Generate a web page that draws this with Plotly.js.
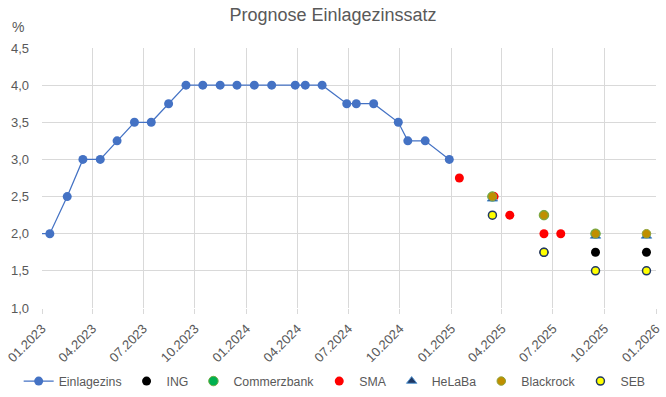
<!DOCTYPE html>
<html>
<head>
<meta charset="utf-8">
<script src="https://cdn.plot.ly/plotly-3.0.1.min.js"></script>
<style>html,body{margin:0;padding:0;background:#fff}#chart{width:666px;height:397px}</style>
</head>
<body>
<div id="chart"></div>
<script>
// Einlagezins (ECB deposit rate), %
const rateDates = ['2022-12-15','2023-01-15','2023-02-15','2023-03-15','2023-04-15','2023-05-15','2023-06-15','2023-07-15','2023-08-15','2023-09-15','2023-10-15','2023-11-15','2023-12-15',
  '2024-01-15','2024-02-15','2024-03-28','2024-04-15','2024-05-15','2024-06-28','2024-07-15','2024-08-15','2024-09-28','2024-10-15','2024-11-15','2024-12-28'];
const rateValues = [2.0,2.0,2.5,3.0,3.0,3.25,3.5,3.5,3.75,4.0,4.0,4.0,4.0,
  4.0,4.0,4.0,4.0,4.0,3.75,3.75,3.75,3.5,3.25,3.25,3.0];

// Forecasts
const ingDates = ['2025-06-15','2025-09-15','2025-12-15'];
const ingValues = [1.75,1.75,1.75];
const cbDates = ['2025-03-15','2025-06-15','2025-09-15'];
const cbValues = [2.5,2.25,2.0];
const smaDates = ['2025-01-15','2025-03-18','2025-04-15','2025-06-15','2025-07-15'];
const smaValues = [2.75,2.5,2.25,2.0,2.0];
const helabaDates = ['2025-03-15','2025-09-15','2025-12-15'];
const helabaValues = [2.47,1.97,1.97];
const blackrockDates = ['2025-03-15','2025-06-15','2025-09-15','2025-12-15'];
const blackrockValues = [2.5,2.25,2.0,2.0];
const sebDates = ['2025-03-15','2025-06-15','2025-09-15','2025-12-15'];
const sebValues = [2.25,1.75,1.5,1.5];

const txt = '#595959';
const grid = '#d9d9d9';
const F = 'Liberation Sans, Arial, sans-serif';

const traces = [
  {name:'Einlagezins', x:rateDates, y:rateValues, type:'scatter', mode:'lines+markers',
   line:{color:'#4472C4', width:1.25}, marker:{color:'#4472C4', size:9}},
  {name:'ING', x:ingDates, y:ingValues, type:'scatter', mode:'markers',
   marker:{color:'#000000', size:9}},
  {name:'Commerzbank', x:cbDates, y:cbValues, type:'scatter', mode:'markers',
   marker:{color:'#00B050', size:9.5, line:{color:'#70AD47', width:1}}},
  {name:'SMA', x:smaDates, y:smaValues, type:'scatter', mode:'markers',
   marker:{color:'#FF0000', size:9}},
  {name:'HeLaBa', x:helabaDates, y:helabaValues, type:'scatter', mode:'markers',
   marker:{symbol:'triangle-up', color:'#1F3864', size:9, line:{color:'#5B9BD5', width:1}}},
  {name:'Blackrock', x:blackrockDates, y:blackrockValues, type:'scatter', mode:'markers',
   marker:{color:'#BF8F00', size:8.5, line:{color:'#8FA33A', width:1}}},
  {name:'SEB', x:sebDates, y:sebValues, type:'scatter', mode:'markers',
   marker:{color:'#FFFF00', size:8, line:{color:'#203864', width:1.5}}}
];

const layout = {
  width:666, height:397,
  margin:{l:42, r:10, t:48, b:89, autoexpand:false},
  paper_bgcolor:'#ffffff', plot_bgcolor:'#ffffff',
  separators:',.',
  font:{family:F, color:txt, size:13},
  title:{text:'Prognose Einlagezinssatz', font:{family:F, size:18, color:txt}, x:0.5, xanchor:'center', y:0.962, yanchor:'middle'},
  showlegend:true,
  legend:{orientation:'h', x:-0.038, xanchor:'left', y:-0.281, yanchor:'middle', itemwidth:30,
    font:{family:F, size:12.3, color:txt}, itemclick:false, bgcolor:'rgba(0,0,0,0)'},
  xaxis:{type:'date', range:['2023-01-01','2026-01-01'], tick0:'2023-01-01', dtick:'M3', tickformat:'%m.%Y',
    tickangle:-45, showgrid:true, gridcolor:grid, gridwidth:1, zeroline:false, showline:false, automargin:false,
    ticks:'outside', ticklen:5, tickcolor:grid, ticklabelstandoff:2, tickfont:{family:F, size:13, color:txt}},
  yaxis:{range:[1,4.5], dtick:0.5, tick0:1, tickformat:'.1f', showgrid:true, gridcolor:grid, gridwidth:1, automargin:false,
    zeroline:false, showline:false, ticks:'', ticklabelstandoff:12, tickfont:{family:F, size:13, color:txt}},
  annotations:[{text:'%', xref:'paper', yref:'paper', x:-0.039, y:1.08, xanchor:'center', yanchor:'middle', showarrow:false, font:{family:F, size:14, color:txt}}]
};

Plotly.newPlot('chart', traces, layout, {displayModeBar:false, staticPlot:true});
</script>
</body>
</html>
